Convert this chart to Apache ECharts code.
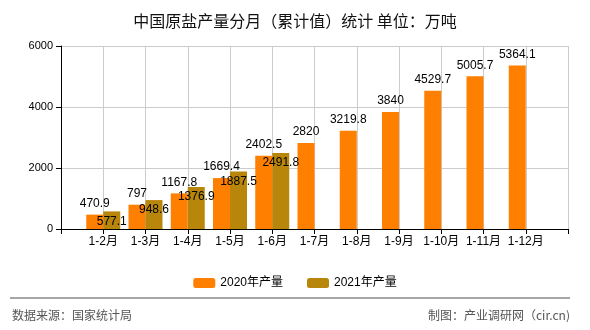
<!DOCTYPE html>
<html><head><meta charset="utf-8">
<script src="https://cdn.jsdelivr.net/npm/echarts@6/dist/echarts.min.js"></script>
<style>html,body{margin:0;padding:0;background:#fff}#c{width:590px;height:330px}</style>
</head><body><div id="c"></div>
<script>
const categories = ['1-2月','1-3月','1-4月','1-5月','1-6月','1-7月','1-8月','1-9月','1-10月','1-11月','1-12月'];
const values2020 = [470.9,797,1167.8,1669.4,2402.5,2820,3219.8,3840,4529.7,5005.7,5364.1];
const values2021 = [577.1,948.6,1376.9,1887.5,2491.8];
const seriesNames = ['2020年产量','2021年产量'];
const yTicks = [0,2000,4000,6000];

const axisCats = [''].concat(categories, ['']);
function pad(arr){ const out=[null]; for(let i=0;i<categories.length;i++) out.push(i<arr.length?arr[i]:null); out.push(null); return out; }
const font = '"Liberation Sans","Noto Sans CJK SC",sans-serif';
const chart = echarts.init(document.getElementById('c'));
chart.setOption({
  animation:false,
  title:{text:'中国原盐产量分月（累计值）统计 单位：万吨',left:'center',top:8,
    textStyle:{fontSize:16,fontWeight:'normal',color:'#111',fontFamily:'"Noto Sans CJK SC",sans-serif'}},
  grid:{left:61,right:22,top:46,bottom:101},
  legend:{data:seriesNames,top:272,left:'center',itemWidth:22,itemHeight:10,itemGap:24,
    textStyle:{fontSize:12,color:'#000',fontFamily:font}},
  xAxis:{type:'category',data:axisCats,boundaryGap:false,
    axisLine:{lineStyle:{color:'#000'}},
    axisTick:{length:5,lineStyle:{color:'#000'}},
    axisLabel:{color:'#000',fontSize:12,fontFamily:font,margin:7,interval:0},
    splitLine:{show:true,lineStyle:{color:'#ccc'}}},
  yAxis:{type:'value',min:yTicks[0],max:yTicks[yTicks.length-1],interval:2000,
    axisLine:{show:true,lineStyle:{color:'#000'}},
    axisTick:{show:true,length:5,lineStyle:{color:'#000'}},
    axisLabel:{color:'#000',fontSize:11,fontFamily:font,margin:8,formatter:v=>String(v)},
    splitLine:{lineStyle:{color:'#ccc'}}},
  series:[
    {name:seriesNames[0],type:'bar',data:pad(values2020),barWidth:17,barGap:'0%',
     itemStyle:{color:'#FF8000'},
     label:{show:true,position:'top',distance:5,color:'#000',fontSize:12,fontFamily:font}},
    {name:seriesNames[1],type:'bar',data:pad(values2021),barWidth:17,barGap:'0%',
     itemStyle:{color:'#B8860B'},
     label:{show:true,position:'insideTop',distance:4,color:'#000',fontSize:12,fontFamily:font}}
  ],
  graphic:[
    {type:'line',shape:{x1:10,y1:298,x2:570,y2:298},style:{stroke:'#888',lineWidth:1.5}},
    {type:'text',left:12,top:309,style:{text:'数据来源：国家统计局',fontSize:12,fill:'#555',fontFamily:'"Noto Sans CJK SC",sans-serif'}},
    {type:'text',right:20,top:309,style:{text:'制图：产业调研网（cir.cn)',fontSize:12,fill:'#555',fontFamily:'"Noto Sans CJK SC",sans-serif'}}
  ]
});
</script></body></html>
